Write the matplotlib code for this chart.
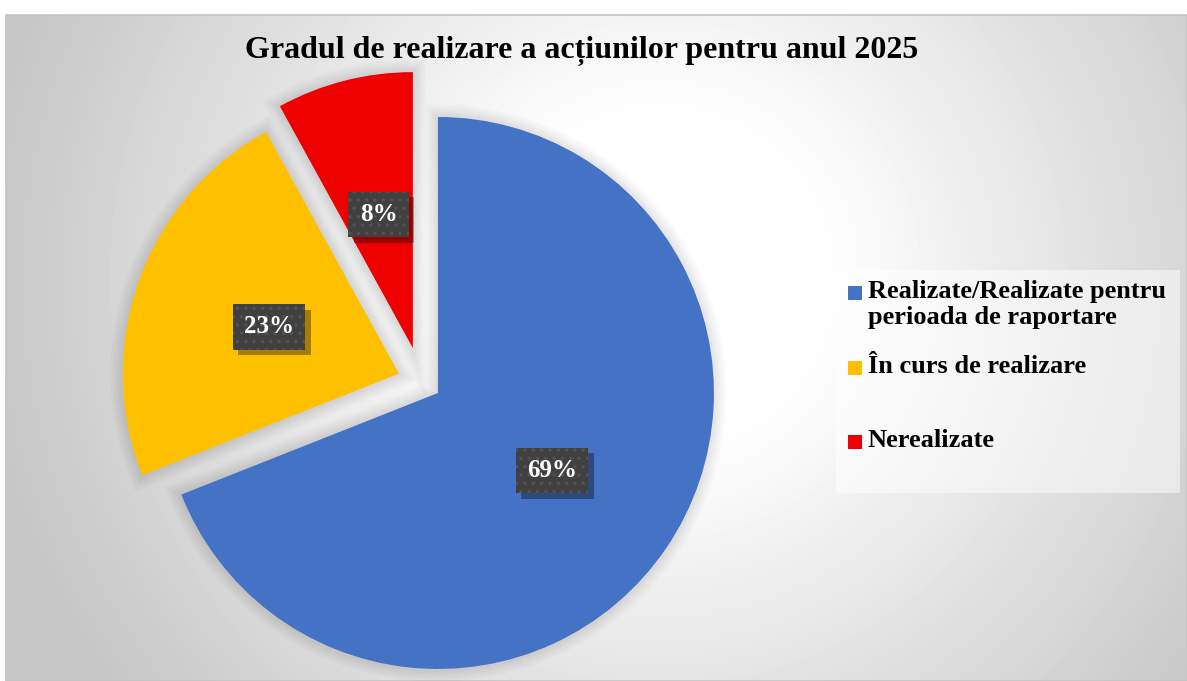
import numpy as np
import matplotlib.pyplot as plt
from matplotlib import patheffects as pe
from matplotlib.patches import Rectangle, Wedge

# data
categories = ["Realizate/Realizate pentru\nperioada de raportare",
              "În curs de realizare",
              "Nerealizate"]
values = [69, 23, 8]
colors = ["#4472C4", "#FFC000", "#EE0000"]
explode = [0.072, 0.087, 0.126]   # fraction of radius
title = "Gradul de realizare a acțiunilor pentru anul 2025"

plt.rcParams['font.family'] = ['Liberation Serif', 'DejaVu Serif']
plt.rcParams['hatch.linewidth'] = 1.2

W, H = 1187, 681
R = 276
fig = plt.figure(figsize=(W / 100, H / 100), dpi=100)
ax = fig.add_axes([0, 0, 1, 1])

# chart area background: radial gradient, light in the middle
x0, x1, y0, y1 = 6, W, 0, H - 15
yy, xx = np.mgrid[y0:y1, x0:x1]
d = np.hypot(xx - 660, yy - (H - 280))
t = np.clip((d - 160) / 520, 0, 1)
g = (255 - 57 * t) / 255
ax.imshow(g, cmap='gray', vmin=0, vmax=1, extent=(x0, x1, y0, y1),
          origin='lower', zorder=0, interpolation='bilinear')
ax.add_patch(Rectangle((x0, y0), x1 - x0, y1 - y0, fill=False,
                       edgecolor='#c4c4c4', lw=1.2, zorder=1))

# pie (explode is in data units in matplotlib, so scale by radius)
wedges, texts, autotexts = ax.pie(
    values, colors=colors, explode=[e * R for e in explode], startangle=90,
    counterclock=False, center=(421.5, H - 381.8), radius=R,
    autopct='%.0f%%', pctdistance=0.5,
    wedgeprops=dict(linewidth=0),
    textprops=dict(color='white', fontsize=18, fontweight='bold'))

# soft shadow under all slices
halo = [pe.Stroke(linewidth=lw, foreground='k', alpha=0.02)
        for lw in (18, 14, 10, 7, 4)]
for w in wedges:
    w.set_zorder(2)
    sh = Wedge(w.center, w.r, w.theta1, w.theta2, facecolor='none',
               edgecolor='none', zorder=1.5)
    sh.set_path_effects(halo)
    ax.add_patch(sh)

for at in autotexts:
    at.set_zorder(5)
    at.set_bbox(dict(boxstyle='square,pad=0.45', facecolor='#404040',
                     edgecolor='none', linewidth=0))
    at.get_bbox_patch().set_path_effects(
        [pe.SimplePatchShadow(offset=(4, -4), shadow_rgbFace='k', alpha=0.35),
         pe.PathPatchEffect(facecolor='#404040', edgecolor='#525252',
                            linewidth=0, hatch='..')])

# legend, drawn by hand so the marker sits on the first line
ax.add_patch(Rectangle((836, H - 493), 344, 223, facecolor='white',
                       alpha=0.5, lw=0, zorder=3))
leg_y = [H - 293, H - 368, H - 442]
for lab, col, y in zip(categories, colors, leg_y):
    ax.add_patch(Rectangle((848, y - 7), 14, 14, color=col, lw=0, zorder=4))
    ax.text(868, y + 13, lab, fontsize=19, fontweight='bold', va='top',
            ha='left', linespacing=1.15, zorder=4)

ax.text(582, H - 51, title, ha='center', va='center', fontsize=23,
        fontweight='bold', zorder=4)

ax.set_xlim(0, W)
ax.set_ylim(0, H)
ax.set_aspect('auto')
ax.axis('off')

fig.savefig('out.png', dpi=100, facecolor='white')
